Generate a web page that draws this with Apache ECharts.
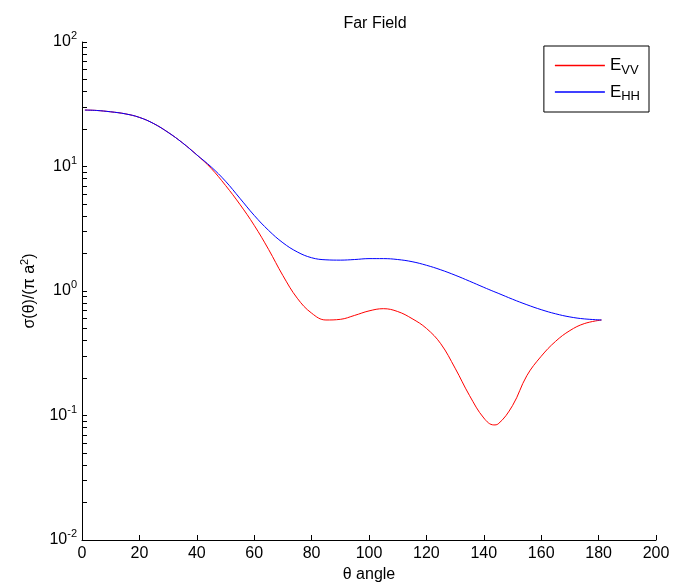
<!DOCTYPE html>
<html>
<head>
<meta charset="utf-8">
<script src="https://cdn.jsdelivr.net/npm/echarts@6/dist/echarts.min.js"></script>
<style>html,body{margin:0;padding:0;background:#fff;}#c{width:674px;height:588px;}</style>
</head>
<body>
<div id="c"></div>
<script>
var theta = [1,5,10,15,20,25,30,35,40,45,50,55,60,65,70,75,80,85,90,95,100,105,110,115,120,125,130,135,140,143.5,145,150,155,160,165,170,175,181];
var eVV = [28.4,28.2,27.5,26.5,24.8,22.1,18.8,15.5,12.4,9.66,7.05,4.97,3.37,2.16,1.33,0.875,0.664,0.585,0.592,0.637,0.692,0.721,0.684,0.600,0.501,0.377,0.240,0.145,0.0955,0.084,0.0856,0.120,0.209,0.299,0.394,0.481,0.547,0.585];
var eHH = [28.4,28.2,27.5,26.5,24.8,22.1,18.8,15.5,12.4,9.93,7.62,5.56,4.05,3.07,2.44,2.06,1.85,1.78,1.77,1.79,1.82,1.82,1.79,1.72,1.61,1.48,1.34,1.20,1.07,0.99,0.959,0.859,0.776,0.708,0.656,0.619,0.597,0.585];
var xTicks = [0,20,40,60,80,100,120,140,160,180,200];
var yDecades = [0.01,0.1,1,10,100];
var yMinorMult = [2,3,4,5,6,7,8,9];
var seriesNames = ['VV','HH'];
var seriesColors = ['#ff0000','#0000ff'];

var yTickVals = [];
yDecades.forEach(function(d, i){
  yTickVals.push(d);
  if (i < yDecades.length - 1) yMinorMult.forEach(function(m){ yTickVals.push(+(d*m).toPrecision(3)); });
});

function pairs(xs, ys){ return xs.map(function(x,i){ return [x, ys[i]]; }); }

var font = 'Liberation Sans, Arial, Helvetica, sans-serif';
var chart = echarts.init(document.getElementById('c'));
chart.setOption({
  animation: false,
  backgroundColor: '#fff',
  color: seriesColors,
  title: { text: 'Far Field', left: 370, textAlign: 'center', top: 11,
    textStyle: { fontFamily: font, fontSize: 16, fontWeight: 'normal', color: '#000' } },
  grid: { left: 82, right: 18, top: 42, bottom: 48, containLabel: false },
  legend: {
    orient: 'vertical', right: 25, top: 46,
    borderColor: '#000', borderWidth: 1, padding: [11, 9, 9, 11],
    itemWidth: 50, itemHeight: 1.5, itemGap: 7,
    icon: 'rect',
    inactiveColor: '#ccc',
    data: seriesNames.map(function(n, i){
      return { name: n, icon: 'rect', itemStyle: { color: seriesColors[i], borderWidth: 0, opacity: 1 } };
    }),
    formatter: function(n){ return '{e|E}{s|' + n + '}'; },
    textStyle: { fontFamily: font, color: '#000',
      rich: { e: { fontSize: 17, fontFamily: font, color: '#000' },
              s: { fontSize: 13, fontFamily: font, color: '#000', padding: [9,0,0,0] } } }
  },
  xAxis: {
    type: 'value', min: 0, max: 200, interval: 20,
    name: 'θ angle', nameLocation: 'middle', nameGap: 26,
    nameTextStyle: { fontFamily: font, fontSize: 16, color: '#000' },
    axisLine: { lineStyle: { color: '#000', width: 1 } },
    axisTick: { inside: true, length: 5, lineStyle: { color: '#000' }, customValues: xTicks },
    axisLabel: { fontFamily: font, fontSize: 16, color: '#000', margin: 6, customValues: xTicks },
    splitLine: { show: false }
  },
  yAxis: {
    type: 'log', logBase: 10, min: 0.01, max: 100,
    name: 'σ(θ)/(π a{s|2})', nameLocation: 'middle', nameGap: 42,
    nameTextStyle: { fontFamily: font, fontSize: 16, color: '#000',
      rich: { s: { fontSize: 11, fontFamily: font, color: '#000', padding: [0,0,10,0] } } },
    axisLine: { show: true, lineStyle: { color: '#000', width: 1 } },
    axisTick: { show: true, inside: true, length: 5, lineStyle: { color: '#000' }, customValues: yTickVals },
    axisLabel: { color: '#000', margin: 5, customValues: yDecades,
      formatter: function(v){ var e = Math.round(Math.log10(v)); return '{b|10}{s|' + e + '}'; },
      rich: { b: { fontSize: 16, fontFamily: font, color: '#000' },
              s: { fontSize: 11, fontFamily: font, color: '#000', padding: [0,0,12,0] } } },
    splitLine: { show: false }
  },
  series: [
    { name: 'VV', type: 'line', data: pairs(theta, eVV), smooth: 0.4, symbol: 'none',
      lineStyle: { color: seriesColors[0], width: 1 }, itemStyle: { color: seriesColors[0] } },
    { name: 'HH', type: 'line', data: pairs(theta, eHH), smooth: 0.4, symbol: 'none',
      lineStyle: { color: seriesColors[1], width: 1 }, itemStyle: { color: seriesColors[1] } }
  ]
});
</script>
</body>
</html>
